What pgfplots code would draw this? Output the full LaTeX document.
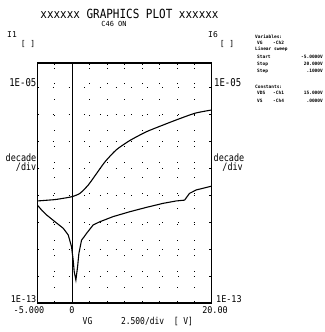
\documentclass[border=0pt]{standalone}
\usepackage{pgfplots}
\pgfplotsset{compat=1.18}
\usepackage{fontspec}
\setmainfont{DejaVu Sans Mono}
\newcommand{\fs}[1]{\fontsize{#1}{#1}\selectfont}
\begin{document}
\begin{tikzpicture}
\path[use as bounding box] (0bp,0bp) rectangle (325bp,332bp);
\begin{axis}[at={(37.3bp,29bp)}, anchor=south west, scale only axis,
  width=174.5bp, height=240bp,
  xmin=-5, xmax=20, ymin=-13, ymax=-4.11,
  xtick={-5,-2.5,...,20}, ytick={-13,-12,...,-5},
  xticklabels={}, yticklabels={},
  grid=major,
  grid style={black, line width=0.7pt, dash pattern=on 0.7pt off 15pt},
  axis line style={line width=1.1pt},
  tick style={black, line width=0.7pt}, major tick length=2bp,
  tick align=inside]
\addplot[black, line width=1.1pt] coordinates {(0,-13) (0,-4.11)};
\addplot[black, line width=1.1pt, smooth, tension=0.4] coordinates {
(-5,-9.22) (-2.5,-9.17) (-1,-9.11) (0,-9.06) (1.1,-8.94) (2.3,-8.63) (3.5,-8.20)
(4.7,-7.77) (6.3,-7.33) (8.2,-6.99) (10.6,-6.66) (13,-6.41) (14.9,-6.22)
(17.6,-5.97) (20,-5.85)};
\addplot[black, line width=1.1pt] coordinates {
(-5,-9.37) (-4.3,-9.58) (-3.66,-9.74) (-2.47,-9.99) (-1.29,-10.23) (-0.57,-10.48)
(-0.1,-10.91) (0.14,-11.41) (0.29,-11.84) (0.53,-12.15) (0.77,-11.66) (0.96,-11.16)
(1.34,-10.67) (1.7,-10.55) (2.06,-10.42) (3.0,-10.11) (3.96,-9.99) (5.86,-9.80)
(8.24,-9.62) (10.6,-9.46) (13,-9.31) (14.9,-9.22) (16.1,-9.19) (16.8,-8.94)
(17.8,-8.81) (20,-8.67)};
\end{axis}
% title
\node[inner sep=0] at (129.5bp,318bp) {\fs{11}\scalebox{1}[1.15]{xxxxxx GRAPHICS PLOT xxxxxx}};
\node[inner sep=0] at (114bp,308bp) {\fs{7}C46 ON};
% left axis labels
\node[inner sep=0] at (12bp,297bp) {\fs{8}I1};
\node[inner sep=0] at (28bp,288bp) {\fs{8}[ ]};
\node[inner sep=0] at (213bp,297bp) {\fs{8}I6};
\node[inner sep=0] at (227bp,288bp) {\fs{8}[ ]};
\node[inner sep=0, anchor=east] at (36.5bp,249bp) {\fs{9}\scalebox{1}[1.2]{1E-05}};
\node[inner sep=0, anchor=east] at (36.5bp,174bp) {\fs{8.5}\scalebox{1}[1.2]{decade}};
\node[inner sep=0, anchor=east] at (36.5bp,165bp) {\fs{8.5}\scalebox{1}[1.2]{/div}};
\node[inner sep=0, anchor=east] at (36.5bp,33bp) {\fs{8.5}\scalebox{1}[1.1]{1E-13}};
\node[inner sep=0, anchor=west] at (214bp,249bp) {\fs{9}\scalebox{1}[1.2]{1E-05}};
\node[inner sep=0, anchor=west] at (213.5bp,174bp) {\fs{8.5}\scalebox{1}[1.2]{decade}};
\node[inner sep=0, anchor=east] at (243bp,165bp) {\fs{8.5}\scalebox{1}[1.2]{/div}};
\node[inner sep=0, anchor=west] at (216bp,33bp) {\fs{8.5}\scalebox{1}[1.1]{1E-13}};
% x labels
\node[inner sep=0] at (29bp,21.5bp) {\fs{8.5}\scalebox{1}[1.1]{-5.000}};
\node[inner sep=0] at (72bp,21.5bp) {\fs{8.5}\scalebox{1}[1.1]{0}};
\node[inner sep=0] at (215bp,21.5bp) {\fs{8.5}\scalebox{1}[1.1]{20.00}};
\node[inner sep=0] at (87.5bp,11bp) {\fs{8}\scalebox{1}[1.2]{VG}};
\node[inner sep=0] at (157bp,11bp) {\fs{8}\scalebox{1}[1.2]{2.500/div\ \ [ V]}};
% right panel
\begin{scope}[every node/.style={inner sep=0, font=\bfseries\fs{4.5}}]
\node[anchor=west] at (255bp,295bp) {Variables:};
\node[anchor=west] at (257bp,289bp) {VG};
\node[anchor=west] at (273bp,289bp) {-Ch2};
\node[anchor=west] at (255bp,283bp) {Linear sweep};
\node[anchor=west] at (257bp,275bp) {Start};
\node[anchor=east] at (323bp,275bp) {-5.0000V};
\node[anchor=west] at (257bp,268bp) {Stop};
\node[anchor=east] at (323bp,268bp) {20.000V};
\node[anchor=west] at (257bp,261bp) {Step};
\node[anchor=east] at (323bp,261bp) {.1000V};
\node[anchor=west] at (255bp,245bp) {Constants:};
\node[anchor=west] at (257bp,239bp) {VDS};
\node[anchor=west] at (273bp,239bp) {-Ch1};
\node[anchor=east] at (323bp,239bp) {15.000V};
\node[anchor=west] at (257bp,231bp) {VS};
\node[anchor=west] at (273bp,231bp) {-Ch4};
\node[anchor=east] at (323bp,231bp) {.0000V};
\end{scope}
\end{tikzpicture}
\end{document}
